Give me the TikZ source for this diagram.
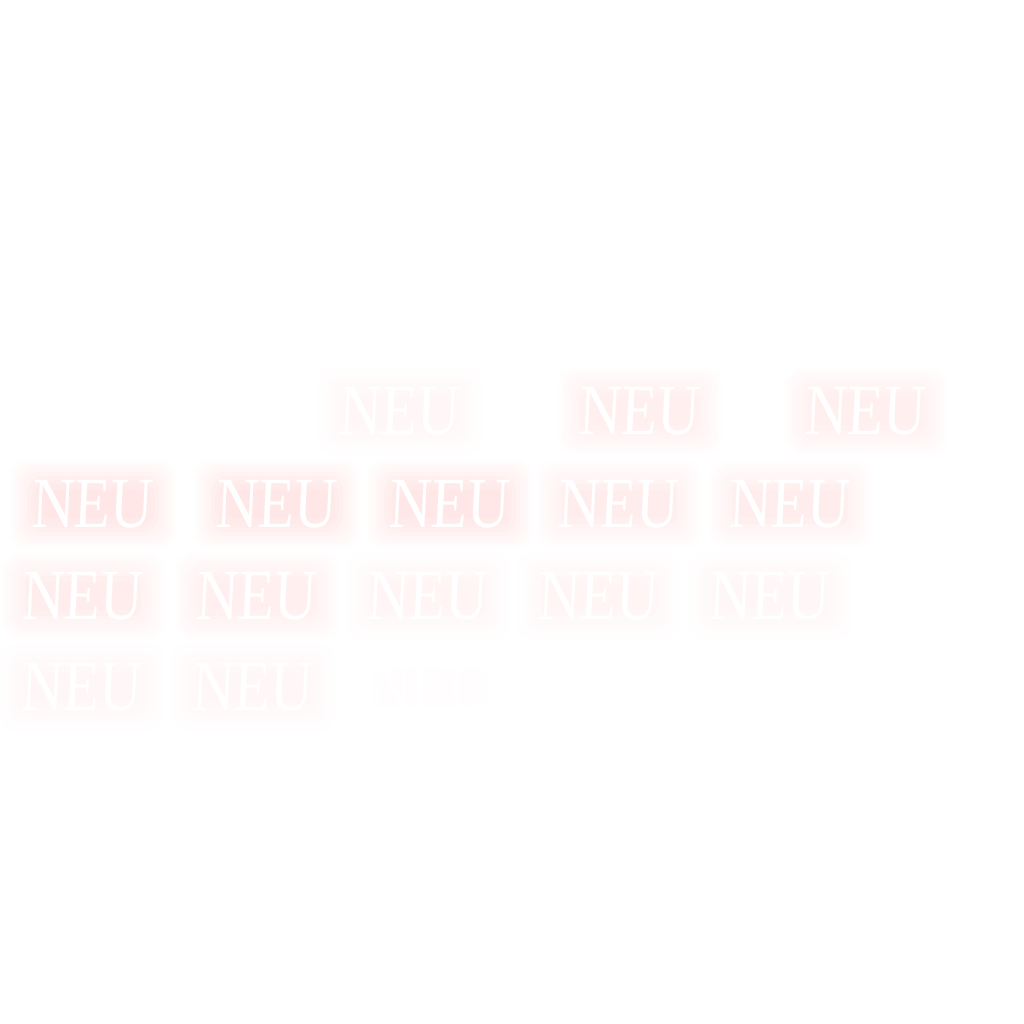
\documentclass[tikz,border=0pt]{standalone}
\usepackage{fontspec}
\newfontfamily\neufont{Liberation Serif}
\usetikzlibrary{backgrounds}
\tikzset{
  neutext/.style={text=white, font=\neufont\fontsize{72}{72}\selectfont, inner sep=0pt, xscale=0.82, xslant=0.06},
  glowlayer/.style={fill=red!90!magenta, rounded corners=16pt}
}
\newcommand\neubox[4]{%
  \node[neutext] (#1) at (#2,#3) {NEU};
  \begin{pgfonlayer}{background}
    \foreach \m in {20,16,12,8,4,0} {
      \fill[glowlayer, opacity=0.01*#4]
        ([shift={(-\m pt,-\m pt)}]#1.south west) rectangle ([shift={(\m pt,\m pt)}]#1.north east);
    }
    \foreach \m in {-4,-10} {
      \fill[glowlayer, rounded corners=8pt, opacity=0.012*#4]
        ([shift={(-\m pt,-\m pt)}]#1.south west) rectangle ([shift={(\m pt,\m pt)}]#1.north east);
    }
  \end{pgfonlayer}
}
\begin{document}
\begin{tikzpicture}[x=1pt,y=1pt]
  \begin{pgfonlayer}{background}
    \fill[white] (0,0) rectangle (1024,1024);
  \end{pgfonlayer}
  \useasboundingbox (0,0) rectangle (1024,1024);
  % row 1
  \neubox{a1}{400}{613}{0.22}
  \neubox{a2}{640}{613}{0.7}
  \neubox{a3}{866}{613}{0.6}
  % row 2
  \neubox{b1}{93}{520}{1}
  \neubox{b2}{277}{520}{1}
  \neubox{b3}{450}{520}{1}
  \neubox{b4}{619}{520}{0.9}
  \neubox{b5}{790}{520}{0.85}
  % row 3
  \neubox{c1}{83}{428}{0.95}
  \neubox{c2}{257}{428}{0.7}
  \neubox{c3}{428}{428}{0.5}
  \neubox{c4}{599}{428}{0.55}
  \neubox{c5}{770}{428}{0.45}
  % row 4
  \neubox{d1}{82}{337}{0.4}
  \neubox{d2}{253}{337}{0.25}
  \neubox{d3}{430}{337}{0.18}
\end{tikzpicture}
\end{document}
